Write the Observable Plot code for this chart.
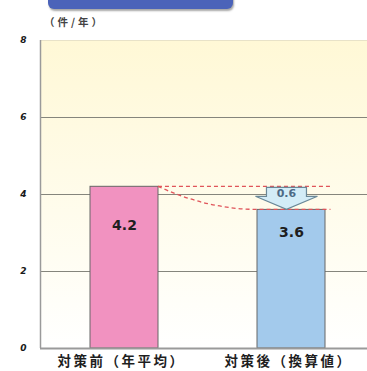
<!DOCTYPE html>
<html>
<head>
<meta charset="utf-8">
<script src="https://cdn.jsdelivr.net/npm/d3@7"></script>
<script src="https://cdn.jsdelivr.net/npm/@observablehq/plot@0.6"></script>
<style>
  html, body { margin: 0; padding: 0; background: #fff; }
  #wrap { position: relative; width: 367px; height: 371px; overflow: hidden; font-family: "Noto Sans CJK JP", "DejaVu Sans", sans-serif; }
  #tab { position: absolute; left: 48px; top: -10px; width: 185px; height: 19px; border-radius: 6px;
         background: #4b63b9; box-shadow: 1px 2px 2px rgba(0,0,0,0.35); }
  #unit { position: absolute; left: 44px; top: 14px; font-size: 10.5px; font-weight: bold; color: #444; letter-spacing: 3px;
          font-family: "Noto Sans CJK JP", sans-serif; }
  svg g[aria-label^="y-axis"] text { font-style: italic; font-weight: bold; font-size: 9px; fill: #1a1a1a; font-family: "DejaVu Sans", sans-serif; }
</style>
</head>
<body>
<div id="wrap">
  <div id="tab"></div>
  <div id="unit">（件/年）</div>
</div>
<script>
// Accidents per year before and after the countermeasure
const categories = ["対策前（年平均）", "対策後（換算値）"];
const values = [4.2, 3.6];
const barColors = ["#f192c0", "#a3caec"];
const yTicks = [0, 2, 4, 6, 8];
const gridValues = [2, 4, 6];
const reductionLabel = "0.6";

const rows = categories.map((c, i) => ({category: c, value: values[i], color: barColors[i]}));

const chart = Plot.plot({
  width: 367,
  height: 371,
  marginLeft: 40,
  marginRight: 0,
  marginTop: 40,
  marginBottom: 23,
  style: {background: "transparent", overflow: "visible"},
  x: {domain: categories, paddingInner: 0.594, paddingOuter: 0.273, align: 0.546, axis: null},
  y: {domain: [0, 8], ticks: yTicks, tickSize: 0, tickPadding: 14, label: null},
  marks: [
    Plot.frame({fill: "url(#bgGrad)", stroke: null}),
    Plot.ruleY([8], {stroke: "#e8e2c8", strokeWidth: 1}),
    Plot.ruleY(gridValues, {stroke: "#85857c", strokeWidth: 1}),
    Plot.barY(rows, {x: "category", y: "value", fill: "color", stroke: "#666", strokeWidth: 1}),
    Plot.ruleY([0], {stroke: "#9a9a9a", strokeWidth: 2}),
    Plot.text(rows.filter((d, i) => i === 0), {x: "category", y: "value", text: d => d.value.toFixed(1), dy: 39,
      fontSize: 14, fontWeight: "bold", fill: "#1e1e1e", fontFamily: "DejaVu Sans"}),
    Plot.text(rows.filter((d, i) => i === 1), {x: "category", y: "value", text: d => d.value.toFixed(1), dy: 23,
      fontSize: 14, fontWeight: "bold", fill: "#1e1e1e", fontFamily: "DejaVu Sans"}),
    Plot.text(categories, {x: d => d, frameAnchor: "bottom", dy: 17, dx: -3, fontSize: 13.5, fontWeight: "bold",
      fill: "#1e1e1e", fontFamily: "Noto Sans CJK JP"})
  ]
});

const svg = d3.select(chart);

// wider tracking for the category labels
svg.selectAll("text").filter(function() { return categories.includes(this.textContent); })
  .style("letter-spacing", "2.5px");

// background gradient for the plotting area
const defs = svg.insert("defs", ":first-child");
const grad = defs.append("linearGradient").attr("id", "bgGrad").attr("x1", 0).attr("y1", 0).attr("x2", 0).attr("y2", 1);
grad.append("stop").attr("offset", "0%").attr("stop-color", "#fff8d6");
grad.append("stop").attr("offset", "70%").attr("stop-color", "#fffdf2");
grad.append("stop").attr("offset", "100%").attr("stop-color", "#ffffff");

// scales from the rendered plot
const sx = chart.scale("x"), sy = chart.scale("y");
const xBand = d3.scaleBand().domain(sx.domain).range(sx.range)
  .paddingInner(sx.paddingInner).paddingOuter(sx.paddingOuter).align(sx.align);
const yScale = d3.scaleLinear().domain(sy.domain).range(sy.range);
const bw = xBand.bandwidth();
const xBefore = xBand(categories[0]), xAfter = xBand(categories[1]);

const overlay = svg.append("g");

// left axis line
overlay.append("line")
  .attr("x1", sx.range[0] + 0.5).attr("x2", sx.range[0] + 0.5)
  .attr("y1", yScale(8)).attr("y2", yScale(0))
  .attr("stroke", "#9a9a9a").attr("stroke-width", 1.5);

// dashed reference lines from the first bar's height to the second bar
const dashStyle = {stroke: "#e0545a", "stroke-width": 1.3, "stroke-dasharray": "4,3", fill: "none"};
const hLine = overlay.append("line")
  .attr("x1", xBefore + bw).attr("x2", xAfter + bw + 5)
  .attr("y1", yScale(values[0])).attr("y2", yScale(values[0]));
const cx = (xBefore + bw + xAfter) / 2;
const curve = overlay.append("path")
  .attr("d", `M${xBefore + bw},${yScale(values[0])} Q${cx},${yScale(values[1])} ${xAfter},${yScale(values[1])} L${xAfter + bw + 5},${yScale(values[1])}`);
for (const [k, v] of Object.entries(dashStyle)) { hLine.attr(k, v); curve.attr(k, v); }

// down arrow showing the reduction
const ac = xAfter + bw / 2 - 5;
const arrowTop = yScale(values[0]) + 1, shoulder = yScale(values[0]) + 10, arrowTip = yScale(values[1]);
overlay.append("path")
  .attr("d", `M${ac - 20},${arrowTop} L${ac + 20},${arrowTop} L${ac + 20},${shoulder} L${ac + 31},${shoulder} L${ac},${arrowTip} L${ac - 31},${shoulder} L${ac - 20},${shoulder} Z`)
  .attr("fill", "#d3ecf7").attr("stroke", "#6a8898").attr("stroke-width", 1.2);
overlay.append("text")
  .attr("x", ac).attr("y", arrowTop + 6).attr("dy", "0.35em")
  .attr("text-anchor", "middle").attr("font-size", 11).attr("font-weight", "bold").attr("font-family", "DejaVu Sans")
  .attr("fill", "#4d6a86").text(reductionLabel);

document.getElementById("wrap").prepend(chart);
chart.style.position = "absolute";
chart.style.left = "0";
chart.style.top = "0";
document.getElementById("tab").style.zIndex = 2;
document.getElementById("unit").style.zIndex = 2;
</script>
</body>
</html>
